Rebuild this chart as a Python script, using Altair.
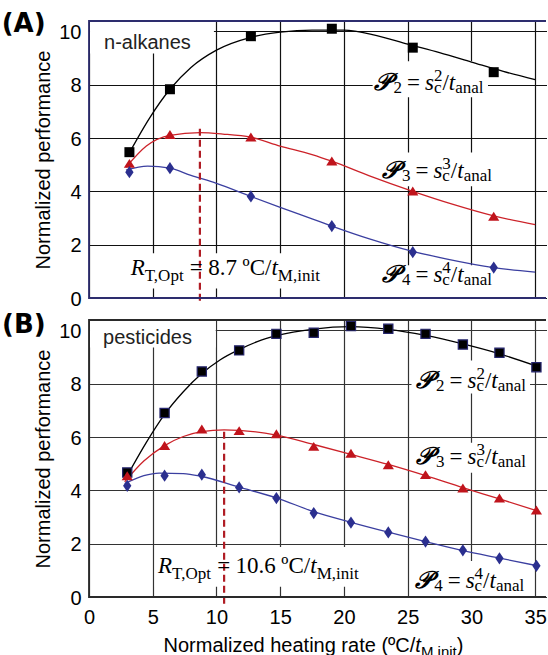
import altair as alt
import pandas as pd

# ---------------- data ----------------
# Panel A : n-alkanes
a_x = [3.17, 6.35, 12.7, 19.05, 25.4, 31.75]
a_p2 = [5.47, 7.83, 9.82, 10.10, 9.39, 8.47]
a_p3 = [5.05, 6.13, 6.04, 5.14, 4.01, 3.07]
a_p4 = [4.72, 4.87, 3.81, 2.70, 1.72, 1.14]

a_fit2_x = [3.17, 4.75, 6.35, 8, 10, 12.7, 15, 17.5, 20, 22.5, 25, 27.5, 30, 32.5, 35]
a_fit2_y = [5.45, 6.75, 7.83, 8.65, 9.3, 9.78, 9.97, 10.05, 10.05, 9.85, 9.52, 9.2, 8.85, 8.5, 8.19]
a_fit3_x = [2.9, 4.5, 6.35, 8.7, 10.5, 12.7, 15, 17.5, 19.05, 22, 25.4, 28.5, 31.75, 35]
a_fit3_y = [4.9, 5.7, 6.1, 6.2, 6.15, 6.03, 5.7, 5.38, 5.13, 4.58, 4.0, 3.52, 3.08, 2.75]
a_fit4_x = [2.9, 4.6, 6.35, 8, 10, 12.7, 15, 17.5, 19.05, 22, 25.4, 28, 31.75, 35]
a_fit4_y = [4.8, 4.95, 4.87, 4.6, 4.3, 3.81, 3.4, 2.97, 2.7, 2.22, 1.75, 1.47, 1.14, 0.97]

# Panel B : pesticides
b_x = [3.0, 5.93, 8.85, 11.78, 14.7, 17.63, 20.55, 23.48, 26.4, 29.33, 32.2, 35.1]
b_p2 = [4.67, 6.90, 8.46, 9.25, 9.87, 9.91, 10.16, 10.06, 9.87, 9.47, 9.16, 8.62]
b_p3 = [4.55, 5.68, 6.30, 6.24, 6.12, 5.65, 5.39, 4.96, 4.59, 4.09, 3.71, 3.26]
b_p4 = [4.17, 4.55, 4.59, 4.11, 3.71, 3.15, 2.79, 2.42, 2.08, 1.75, 1.45, 1.17]

b_fit2_x = [3.0, 4.5, 5.93, 7.4, 8.85, 10.3, 11.78, 13.2, 14.7, 17.63, 20.55, 23.48, 26.4, 29.33, 32.2, 35.1]
b_fit2_y = [4.55, 5.8, 6.85, 7.7, 8.38, 8.9, 9.28, 9.58, 9.8, 10.05, 10.14, 10.04, 9.81, 9.49, 9.12, 8.66]
b_fit3_x = [2.8, 4.3, 5.93, 7.4, 8.85, 10.6, 11.78, 14.7, 17.63, 20.55, 23.48, 26.4, 29.33, 32.2, 35.1]
b_fit3_y = [4.32, 5.1, 5.68, 6.02, 6.2, 6.27, 6.25, 6.07, 5.72, 5.35, 4.97, 4.55, 4.1, 3.68, 3.24]
b_fit4_x = [2.8, 4.3, 5.5, 7.4, 8.85, 11.78, 14.7, 17.63, 20.55, 23.48, 26.4, 29.33, 32.2, 35.1]
b_fit4_y = [4.25, 4.55, 4.65, 4.63, 4.52, 4.12, 3.72, 3.2, 2.8, 2.43, 2.08, 1.74, 1.46, 1.18]

r_opt = [8.7, 10.6]          # optimum heating rates
r_opt_top = [6.35, 6.3]      # top of the dashed marker
panel_names = ["n-alkanes", "pesticides"]
panel_tags = ["(A)", "(B)"]

x_ticks = [0, 5, 10, 15, 20, 25, 30, 35]
y_ticks = [0, 2, 4, 6, 8, 10]

# ---------------- styling / layout ----------------
W, H = 458, 277
XMAX = 35.93
YMAX = 10.39
xs = alt.Scale(domain=[0, XMAX], nice=False, zero=False)
ys = alt.Scale(domain=[0, YMAX], nice=False, zero=False)
SANS = "Liberation Sans"
SERIF = "Liberation Serif"
RED_M, RED_L = "#c0141c", "#cc2229"
BLUE_M, BLUE_L = "#2b2f8f", "#3b3fa0"
DASH = "#b01c24"
MAIN, SUB = 23, 17

TR = {" ": 250, "=": 564, "/": 278, ".": 250, ",": 250, "º": 310, "C": 667, "T": 611,
      "O": 722, "p": 500, "t": 278, "M": 889, "i": 278, "n": 500, "a": 444, "l": 278, "c": 444}
TI = {"s": 389, "t": 278, "R": 611}


def tw(text, size, italic=False):
    tab = TI if italic else TR
    return sum(tab.get(ch, 500) for ch in text) * size / 1000.0


def p_segments(n):
    return [
        dict(t="\U0001D4AB", size=24, italic=True, bold=True, w=19.5),
        dict(t=n, size=SUB, dy=3),
        dict(t="=", size=MAIN, gap=5),
        dict(t="s", size=MAIN, italic=True, gap=5),
        dict(t="c", size=SUB, dy=3, stack=True),
        dict(t=n, size=SUB, dy=-9),
        dict(t="/", size=MAIN),
        dict(t="t", size=MAIN, italic=True),
        dict(t="anal", size=SUB, dy=3),
    ]


def r_segments(val):
    return [
        dict(t="R", size=MAIN, italic=True),
        dict(t="T,Opt", size=SUB, dy=6),
        dict(t="=", size=MAIN, gap=5),
        dict(t="%s" % val, size=MAIN, gap=5.5),
        dict(t="ºC/", size=MAIN, gap=5.5),
        dict(t="t", size=MAIN, italic=True),
        dict(t="M,init", size=SUB, dy=6),
    ]


def enc_xy(xf="x:Q", yf="y:Q"):
    return dict(x=alt.X(xf, scale=xs), y=alt.Y(yf, scale=ys))


def seg_layers(x0, y0, segs, font=SERIF):
    layers = []
    off = 0.0
    stack_w = None
    df = pd.DataFrame({"x": [x0], "y": [y0]})
    for s in segs:
        off += s.get("gap", 0)
        w = s.get("w", tw(s["t"], s["size"], s.get("italic", False)))
        kw = dict(text=s["t"], font=font, fontSize=s["size"], align="left",
                  baseline="alphabetic", dx=off, dy=s.get("dy", 0), color="black")
        if s.get("italic"):
            kw["fontStyle"] = "italic"
        if s.get("bold"):
            kw["fontWeight"] = "bold"
        layers.append(alt.Chart(df).mark_text(**kw).encode(**enc_xy()))
        if s.get("stack"):
            stack_w = w
        else:
            off += max(w, stack_w or 0)
            stack_w = None
    return layers


def panel(idx, xv, p2, p3, p4, f2, f3, f4, boxes, labels, show_x):
    pts = pd.DataFrame({"x": xv, "p2": p2, "p3": p3, "p4": p4})
    gcol = "#111111" if idx == 0 else "#333333"
    xaxis = alt.Axis(values=x_ticks, grid=True, ticks=False, domain=False, title=None,
                     labels=show_x, labelFontSize=20, labelFont=SANS, labelColor="black",
                     labelPadding=10, labelFlush=False, labelOverlap=False,
                     gridColor=gcol, gridWidth=1.2)
    yaxis = alt.Axis(values=y_ticks, grid=True, ticks=False, domain=False,
                     title="Normalized performance", titleFont=SANS, titleFontSize=20,
                     titleFontWeight="normal", titleColor="black", titlePadding=5,
                     labelFontSize=20, labelFont=SANS, labelColor="black", labelPadding=8,
                     labelFlush=False, labelOverlap=False, labelOffset=1,
                     gridColor=gcol, gridWidth=1.2)
    bdf = pd.DataFrame(boxes, columns=["x", "x2", "y", "y2"])
    base = alt.Chart(bdf).mark_rect(fill="white", strokeWidth=0).encode(
        x=alt.X("x:Q", scale=xs, axis=xaxis), x2="x2:Q",
        y=alt.Y("y:Q", scale=ys, axis=yaxis), y2="y2:Q")
    layers = [base]

    def curve(fx, fy, col):
        d = pd.DataFrame({"x": fx, "y": fy})
        return alt.Chart(d).mark_line(color=col, strokeWidth=1.3, interpolate="monotone").encode(**enc_xy())

    layers += [curve(*f2, "black"), curve(*f3, RED_L), curve(*f4, BLUE_L)]

    sq_kw = dict(shape="square", size=100 if idx == 0 else 85, filled=True, color="black", opacity=1)
    if idx == 1:
        sq_kw.update(stroke="#26266e", strokeWidth=1.2)
    layers.append(alt.Chart(pts).mark_point(**sq_kw).encode(**enc_xy("x:Q", "p2:Q")))
    layers.append(alt.Chart(pts).mark_point(shape="M0,-0.8L1,0.8L-1,0.8Z", size=125, filled=True,
                                            color=RED_M, opacity=1).encode(**enc_xy("x:Q", "p3:Q")))
    layers.append(alt.Chart(pts).mark_point(shape="M0,-1L0.68,0L0,1L-0.68,0Z", size=150, filled=True,
                                            color=BLUE_M, opacity=1).encode(**enc_xy("x:Q", "p4:Q")))

    # dashed optimum marker
    rdf = pd.DataFrame({"x": [r_opt[idx]], "y": [-0.1 if idx == 0 else -0.25], "y2": [r_opt_top[idx]]})
    layers.append(alt.Chart(rdf).mark_rule(color=DASH, strokeWidth=2.2, strokeDash=[7, 4]).encode(
        y2="y2:Q", **enc_xy()))

    # panel name
    ndf = pd.DataFrame({"x": [labels["name"][0]], "y": [labels["name"][1]]})
    layers.append(alt.Chart(ndf).mark_text(text=panel_names[idx], font=SANS, fontSize=20,
                                           align="left", baseline="alphabetic", color="#222").encode(**enc_xy()))
    for n, key in (("2", "p2"), ("3", "p3"), ("4", "p4")):
        layers += seg_layers(labels[key][0], labels[key][1], p_segments(n))
    layers += seg_layers(labels["r"][0], labels["r"][1], r_segments(r_opt[idx]))

    tdf = pd.DataFrame({"a": [0]})
    # frame: left, top and bottom edges (the right edge runs off the picture)
    stroke = "#2d2d6e" if idx == 0 else "#2a2a2a"
    layers.append(alt.Chart(tdf).mark_rule(color=stroke, strokeWidth=1.8).encode(
        x=alt.value(0), y=alt.value(-0.9), y2=alt.value(H + 0.9)))
    layers.append(alt.Chart(tdf).mark_rule(color=stroke, strokeWidth=1.8).encode(
        x=alt.value(0), x2=alt.value(W - 1), y=alt.value(0)))
    layers.append(alt.Chart(tdf).mark_rule(color=stroke, strokeWidth=1.8).encode(
        x=alt.value(0), x2=alt.value(W - 1), y=alt.value(H)))

    # panel tag (A)/(B)
    layers.append(alt.Chart(tdf).mark_text(text=panel_tags[idx], font="DejaVu Sans", fontSize=26,
                                           fontWeight="bold", align="right", baseline="alphabetic",
                                           color="black").encode(
        x=alt.value(-43.4), y=alt.value(10.5 if idx == 0 else 13.0)))

    if show_x:
        xt = [dict(t="Normalized heating rate (ºC/", size=20, w=251.8),
              dict(t="t", size=20, italic=True, w=5.6),
              dict(t="M,init", size=15, dy=5, w=35.8),
              dict(t=")", size=20, w=6.7)]
        off = 0.0
        for s in xt:
            kw = dict(text=s["t"], font=SANS, fontSize=s["size"], align="left",
                      baseline="alphabetic", dx=off, dy=s.get("dy", 0), color="black")
            if s.get("italic"):
                kw["fontStyle"] = "italic"
            layers.append(alt.Chart(tdf).mark_text(**kw).encode(
                x=alt.value(74.5), y=alt.value(331.5)))
            off += s["w"]

    return alt.layer(*layers).properties(
        width=W, height=H, view=alt.ViewBackground(strokeWidth=0, strokeOpacity=0, fill="white"))


boxes_a = [[0.08, 9.8, 9.17, 10.36], [22.25, 31.3, 7.53, 8.88], [23.0, 31.5, 4.19, 5.46],
           [23.0, 31.5, 0.04, 1.23], [2.9, 18.6, 0.36, 1.68]]
labels_a = {"name": (1.18, 9.35), "p2": (22.36, 7.79), "p3": (23.02, 4.49),
            "p4": (23.02, 0.6), "r": (3.27, 0.88)}
boxes_b = [[0.08, 9.94, 9.36, 10.36], [25.3, 34.6, 7.63, 8.87], [25.3, 34.6, 4.66, 5.79],
           [25.2, 34.6, 0.04, 1.35], [5.16, 21.6, 0.38, 1.88]]
labels_b = {"name": (1.1, 9.5), "p2": (25.69, 7.85), "p3": (25.69, 4.99),
            "p4": (25.55, 0.35), "r": (5.41, 0.91)}

top = panel(0, a_x, a_p2, a_p3, a_p4, (a_fit2_x, a_fit2_y), (a_fit3_x, a_fit3_y),
            (a_fit4_x, a_fit4_y), boxes_a, labels_a, False)
bot = panel(1, b_x, b_p2, b_p3, b_p4, (b_fit2_x, b_fit2_y), (b_fit3_x, b_fit3_y),
            (b_fit4_x, b_fit4_y), boxes_b, labels_b, True)

chart = alt.vconcat(top, bot, spacing=22, bounds="flush").properties(
    padding={"left": 1, "top": 10, "right": 0, "bottom": 0}, background="white")

chart.save("out.html", embed_options={"renderer": "svg", "actions": False})
